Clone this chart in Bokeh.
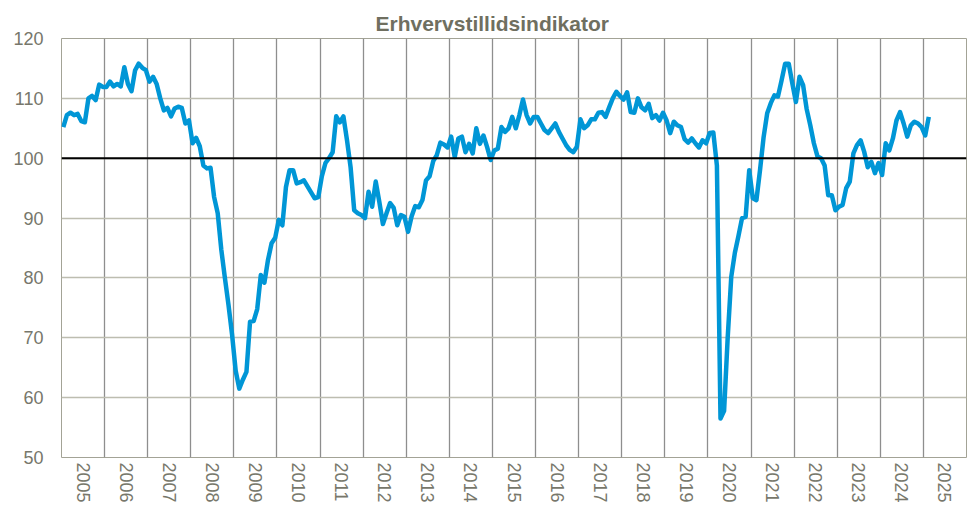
from bokeh.plotting import figure
from bokeh.models import FixedTicker, Span, ColumnDataSource
from bokeh.embed import file_html
from bokeh.resources import INLINE
import math

title_text = "Erhvervstillidsindikator"
year_labels = [str(y) for y in range(2005, 2026)]
y_ticks = [50, 60, 70, 80, 90, 100, 110, 120]

# Monthly index values, Jan..Dec per year
v2005 = [105.2, 107.2, 107.6, 107.2, 107.4, 106.2, 106.0, 110.0, 110.4, 109.7, 112.3, 111.9]
v2006 = [111.9, 112.8, 112.0, 112.4, 112.0, 115.2, 112.4, 111.2, 114.7, 115.8, 115.1, 114.7]
v2007 = [112.8, 113.6, 112.4, 110.0, 108.0, 108.4, 107.0, 108.3, 108.6, 108.4, 105.8, 106.3]
v2008 = [102.5, 103.4, 102.0, 98.8, 98.3, 98.4, 93.5, 90.8, 84.7, 80.0, 75.5, 70.5]
v2009 = [64.5, 61.5, 63.0, 64.3, 72.7, 72.8, 74.8, 80.5, 79.2, 83.0, 85.8, 86.7]
v2010 = [89.7, 88.8, 95.2, 98.0, 98.0, 95.8, 96.0, 96.3, 95.3, 94.3, 93.3, 93.5]
v2011 = [97.0, 99.2, 100.0, 101.0, 107.0, 106.0, 107.0, 103.0, 98.5, 91.3, 90.8, 90.5]
v2012 = [90.0, 94.4, 91.9, 96.1, 92.7, 89.0, 90.8, 92.5, 91.7, 88.8, 90.5, 90.2]
v2013 = [87.7, 90.3, 92.0, 91.8, 93.0, 96.3, 97.0, 99.5, 100.5, 102.6, 102.3, 101.8]
v2014 = [103.6, 100.2, 103.3, 103.6, 101.0, 102.4, 100.8, 105.0, 102.4, 103.8, 101.9, 99.7]
v2015 = [101.3, 101.6, 105.2, 104.4, 105.0, 106.9, 105.0, 107.2, 109.8, 107.2, 105.8, 106.9]
v2016 = [106.9, 105.8, 104.7, 104.2, 105.0, 105.8, 104.4, 103.3, 102.2, 101.4, 101.0, 101.9]
v2017 = [106.5, 105.0, 105.5, 106.5, 106.5, 107.6, 107.7, 106.9, 108.5, 110.0, 111.1, 110.4]
v2018 = [109.8, 111.0, 107.7, 107.6, 110.0, 108.5, 108.0, 109.1, 106.7, 107.2, 106.3, 107.6]
v2019 = [106.3, 104.2, 106.1, 105.5, 105.2, 103.2, 102.6, 103.3, 102.5, 101.8, 103.0, 102.5]
v2020 = [104.2, 104.3, 98.8, 56.5, 57.8, 70.0, 80.2, 84.2, 87.0, 90.0, 90.2, 98.0]
v2021 = [93.3, 93.0, 98.0, 103.5, 107.5, 109.2, 110.5, 110.3, 113.0, 115.8, 115.8, 112.5]
v2022 = [109.4, 113.6, 112.2, 108.2, 105.5, 102.5, 100.3, 100.0, 98.8, 93.8, 93.8, 91.3]
v2023 = [91.9, 92.2, 95.0, 96.1, 100.8, 102.2, 103.0, 101.1, 98.5, 99.4, 97.5, 99.2]
v2024 = [97.2, 102.5, 101.3, 103.3, 106.3, 107.7, 105.8, 103.6, 105.5, 106.1, 105.8, 105.2]
v2025 = [103.8, 106.9]

all_years = [v2005, v2006, v2007, v2008, v2009, v2010, v2011, v2012, v2013, v2014,
             v2015, v2016, v2017, v2018, v2019, v2020, v2021, v2022, v2023, v2024, v2025]

xs, ys = [], []
for k, vals in enumerate(all_years):
    for m, v in enumerate(vals):
        xs.append(2005 + k + (m + 0.5) / 12.0)
        ys.append(v)

src = ColumnDataSource(data=dict(x=xs, y=ys))

FONT = "'Liberation Sans', Arial, sans-serif"
LABEL_COLOR = "#77776b"

p = figure(width=974, height=510, x_range=(2005, 2026), y_range=(50, 120),
           output_backend="svg", toolbar_location=None,
           min_border_left=61, min_border_right=8, min_border_top=38, min_border_bottom=53)

p.title.text = title_text
p.title.align = "left"
p.title.offset = 314
p.title.text_font = FONT
p.title.text_font_size = "21px"
p.title.text_font_style = "bold"
p.title.text_color = "#6f6f60"
p.title.standoff = 7

p.outline_line_color = "#a3a396"
p.outline_line_width = 1

# grids
p.xgrid.ticker = FixedTicker(ticks=list(range(2005, 2027)))
p.xgrid.grid_line_color = "#8e8e8e"
p.xgrid.grid_line_width = 1.3
p.ygrid.ticker = FixedTicker(ticks=y_ticks)
p.ygrid.grid_line_color = "#bdbdb0"
p.ygrid.grid_line_width = 1.3

# x axis: labels centred in each year
p.xaxis.ticker = FixedTicker(ticks=[y + 0.5 for y in range(2005, 2026)])
p.xaxis.major_label_overrides = {y + 0.5: lab for y, lab in zip(range(2005, 2026), year_labels)}
p.xaxis.major_label_orientation = -math.pi / 2
p.xaxis.axis_line_color = None
p.xaxis.major_tick_line_color = None
p.xaxis.minor_tick_line_color = None
p.xaxis.major_tick_out = 0
p.xaxis.major_label_standoff = 5
p.xaxis.major_label_text_font = FONT
p.xaxis.major_label_text_font_size = "18px"
p.xaxis.major_label_text_color = LABEL_COLOR

p.yaxis.ticker = FixedTicker(ticks=y_ticks)
p.yaxis.axis_line_color = None
p.yaxis.major_tick_line_color = None
p.yaxis.minor_tick_line_color = None
p.yaxis.major_tick_out = 0
p.yaxis.major_label_standoff = 18
p.yaxis.major_label_text_font = FONT
p.yaxis.major_label_text_font_size = "18px"
p.yaxis.major_label_text_color = LABEL_COLOR

p.add_layout(Span(location=100, dimension="width", line_color="black", line_width=2))

p.line("x", "y", source=src, line_color="#0096d6", line_width=4.5, line_join="round")

html = file_html(p, INLINE)
open("out.html", "w").write(html)
